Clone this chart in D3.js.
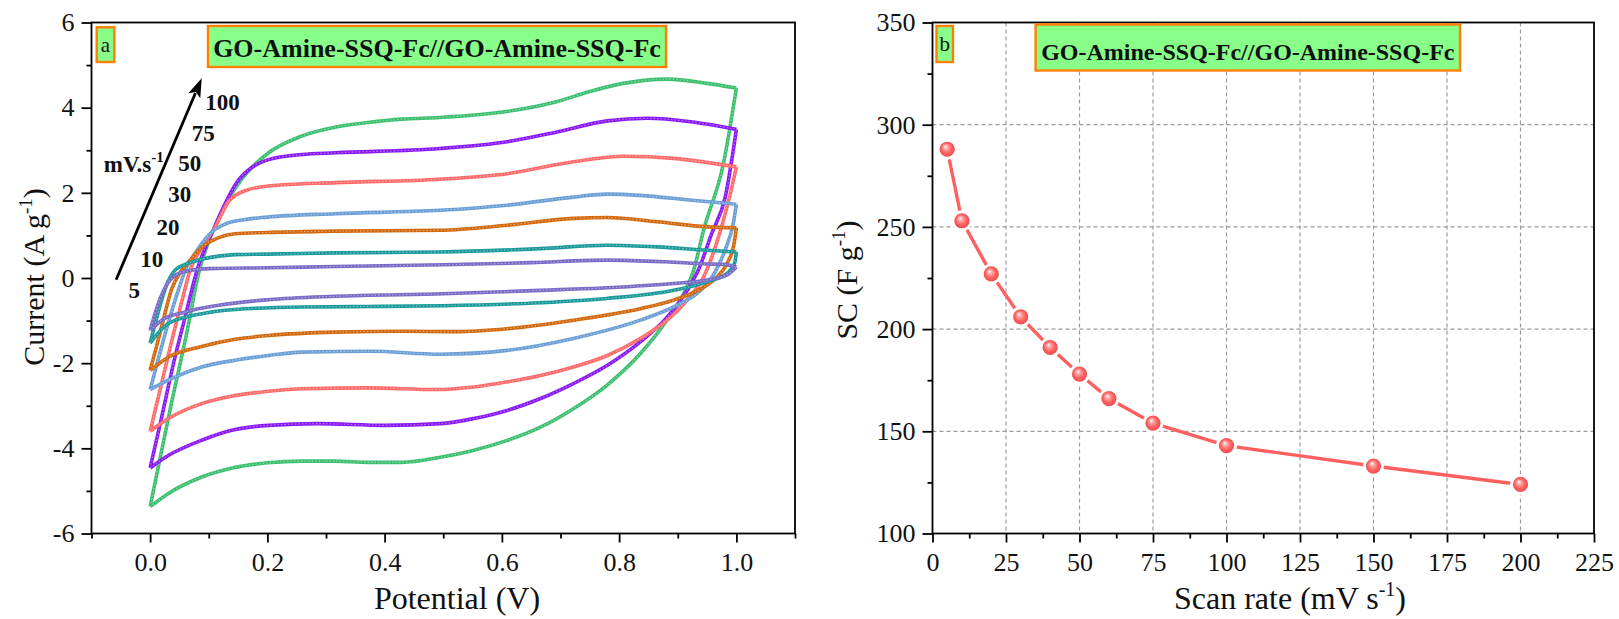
<!DOCTYPE html>
<html><head><meta charset="utf-8">
<script src="https://cdn.jsdelivr.net/npm/d3@7"></script>
<style>
body{margin:0;background:#fff}
svg{display:block}
text{font-family:"Liberation Serif","Times New Roman",serif;fill:#111}
</style>
</head><body>
<svg id="chart" width="1619" height="619"></svg>
<script>
// ---------- DATA ----------
const scanRates = ["5", "10", "20", "30", "50", "75", "100"];
const cvColors = ["#7a6bc7", "#1a9a9a", "#d2690e", "#6c9fd6", "#ff6b6b", "#8a1af5", "#3dbf70"];

// anodic (upper) branches: [potential V, current A/g]
const upper5 = [[0,-1.23],[0.008,-0.85],[0.018,-0.45],[0.03,-0.12],[0.045,0.08],[0.07,0.18],[0.1,0.22],[0.2,0.24],[0.316,0.27],[0.5,0.31],[0.65,0.36],[0.78,0.42],[0.88,0.38],[0.95,0.33],[0.978,0.32],[1.0,0.26]];
const upper10 = [[0,-1.53],[0.01,-1.0],[0.02,-0.5],[0.03,-0.1],[0.042,0.18],[0.06,0.32],[0.088,0.44],[0.12,0.52],[0.145,0.55],[0.2,0.56],[0.316,0.59],[0.494,0.61],[0.666,0.69],[0.78,0.77],[0.865,0.73],[0.95,0.65],[1.0,0.61]];
const upper20 = [[0,-2.17],[0.012,-1.55],[0.024,-0.9],[0.037,-0.25],[0.05,0.1],[0.065,0.36],[0.088,0.72],[0.117,0.95],[0.145,1.04],[0.2,1.07],[0.316,1.10],[0.494,1.12],[0.609,1.24],[0.722,1.40],[0.78,1.42],[0.865,1.32],[0.95,1.20],[1.0,1.18]];
const upper30 = [[0,-2.62],[0.015,-1.85],[0.03,-1.1],[0.048,-0.29],[0.06,0.18],[0.08,0.65],[0.105,1.08],[0.13,1.28],[0.16,1.37],[0.2,1.43],[0.316,1.51],[0.494,1.59],[0.609,1.71],[0.722,1.90],[0.78,1.97],[0.836,1.94],[0.92,1.83],[1.0,1.73]];
const upper50 = [[0,-3.60],[0.02,-2.45],[0.04,-1.3],[0.055,-0.5],[0.068,0.18],[0.09,0.75],[0.111,1.2],[0.134,1.80],[0.162,2.05],[0.202,2.16],[0.316,2.24],[0.494,2.32],[0.609,2.45],[0.722,2.73],[0.808,2.86],[0.893,2.81],[1.0,2.61]];
const upper75 = [[0,-4.46],[0.02,-3.25],[0.04,-2.0],[0.06,-0.9],[0.08,0.18],[0.11,1.2],[0.128,1.75],[0.148,2.25],[0.174,2.6],[0.202,2.78],[0.259,2.90],[0.316,2.94],[0.494,3.04],[0.609,3.20],[0.694,3.43],[0.78,3.69],[0.848,3.75],[0.922,3.67],[1.0,3.49]];
const upper100 = [[0,-5.37],[0.036,-2.96],[0.061,-1.39],[0.084,0.18],[0.11,1.2],[0.133,1.83],[0.155,2.30],[0.201,2.93],[0.258,3.33],[0.315,3.54],[0.372,3.65],[0.429,3.73],[0.494,3.77],[0.608,3.91],[0.693,4.14],[0.75,4.38],[0.807,4.57],[0.881,4.67],[0.95,4.57],[1.0,4.46]];

// cathodic (lower) branches, listed by increasing potential
const lower5 = [[0,-1.23],[0.02,-0.99],[0.06,-0.80],[0.117,-0.64],[0.202,-0.51],[0.316,-0.43],[0.5,-0.37],[0.666,-0.29],[0.78,-0.23],[0.893,-0.13],[0.95,-0.05],[0.985,0.08],[1.0,0.26]];
const lower10 = [[0,-1.53],[0.031,-1.07],[0.088,-0.84],[0.145,-0.74],[0.259,-0.68],[0.373,-0.67],[0.5,-0.65],[0.666,-0.58],[0.779,-0.48],[0.893,-0.29],[0.95,-0.09],[0.985,0.12],[0.997,0.35],[1.0,0.61]];
const lower20 = [[0,-2.17],[0.031,-1.86],[0.088,-1.61],[0.145,-1.44],[0.202,-1.35],[0.316,-1.27],[0.43,-1.25],[0.52,-1.26],[0.609,-1.19],[0.722,-0.99],[0.836,-0.72],[0.893,-0.52],[0.94,-0.25],[0.965,0.0],[0.984,0.34],[0.996,0.8],[1.0,1.18]];
const lower30 = [[0,-2.62],[0.031,-2.40],[0.088,-2.09],[0.145,-1.93],[0.202,-1.82],[0.259,-1.74],[0.373,-1.72],[0.495,-1.79],[0.609,-1.70],[0.722,-1.42],[0.836,-0.99],[0.893,-0.68],[0.939,-0.29],[0.962,0.1],[0.982,0.7],[0.995,1.3],[1.0,1.73]];
const lower50 = [[0,-3.60],[0.031,-3.30],[0.088,-2.95],[0.145,-2.76],[0.202,-2.66],[0.259,-2.60],[0.373,-2.58],[0.486,-2.62],[0.552,-2.56],[0.609,-2.44],[0.666,-2.29],[0.722,-2.09],[0.78,-1.82],[0.836,-1.42],[0.882,-0.99],[0.916,-0.52],[0.944,0.02],[0.973,1.12],[0.99,2.0],[1.0,2.61]];
const lower75 = [[0,-4.46],[0.031,-4.17],[0.088,-3.81],[0.145,-3.56],[0.202,-3.46],[0.287,-3.42],[0.401,-3.46],[0.495,-3.42],[0.552,-3.30],[0.609,-3.11],[0.666,-2.83],[0.722,-2.48],[0.78,-2.05],[0.836,-1.50],[0.882,-0.92],[0.916,-0.29],[0.935,0.18],[0.958,1.05],[0.981,1.9],[1.0,3.49]];
const lower100 = [[0,-5.37],[0.030,-5.07],[0.087,-4.68],[0.144,-4.45],[0.201,-4.34],[0.258,-4.30],[0.315,-4.30],[0.372,-4.33],[0.429,-4.33],[0.495,-4.21],[0.551,-4.05],[0.608,-3.82],[0.665,-3.51],[0.722,-3.07],[0.779,-2.52],[0.836,-1.78],[0.881,-1.0],[0.913,-0.29],[0.927,0.18],[0.944,1.12],[0.978,2.69],[1.0,4.46]];

const cvUpper = [upper5, upper10, upper20, upper30, upper50, upper75, upper100];
const cvLower = [lower5, lower10, lower20, lower30, lower50, lower75, lower100];

const cvXTicks = [0, 0.2, 0.4, 0.6, 0.8, 1.0];
const cvXMinor = [-0.1, 0.1, 0.3, 0.5, 0.7, 0.9, 1.1];
const cvYTicks = [-6, -4, -2, 0, 2, 4, 6];
const cvYMinor = [-5, -3, -1, 1, 3, 5];

const scRate = [5, 10, 20, 30, 40, 50, 60, 75, 100, 150, 200];
const scValue = [288, 253, 227, 206, 191, 178, 166, 154, 143, 133, 124];
const scXTicks = [0, 25, 50, 75, 100, 125, 150, 175, 200, 225];
const scXMinor = [12.5, 37.5, 62.5, 87.5, 112.5, 137.5, 162.5, 187.5, 212.5];
const scYTicks = [100, 150, 200, 250, 300, 350];
const scYMinor = [125, 175, 225, 275, 325];
const scXGrid = [25, 50, 75, 100, 125, 150, 175, 200];
const scYGrid = [150, 200, 250, 300];

const panelTitle = "GO-Amine-SSQ-Fc//GO-Amine-SSQ-Fc";
// rate annotations placed in data units of panel a
const rateLabels = [["100",0.094,3.94],["75",0.071,3.21],["50",0.048,2.51],["30",0.031,1.79],["20",0.011,1.00],["10",-0.017,0.26],["5",-0.037,-0.46]];
const arrowFrom = [-0.058, -0.04], arrowTo = [0.088, 4.69];

// ---------- DRAW ----------
const svg = d3.select("#chart");
const TOP = 22.5, BOT = 533.5;
const SERIF = '"Liberation Serif","Times New Roman",serif';

function axes(g, x, y, xT, xM, yT, yM, xFmt, yFmt) {
  const ax = g.append("g").attr("transform", `translate(0,${BOT})`);
  ax.call(d3.axisBottom(x).tickValues(xT).tickSize(9).tickPadding(10).tickFormat(xFmt));
  const axm = g.append("g").attr("transform", `translate(0,${BOT})`);
  axm.call(d3.axisBottom(x).tickValues(xM).tickSize(5).tickFormat(""));
  const ay = g.append("g").attr("transform", `translate(${x.range()[0]},0)`);
  ay.call(d3.axisLeft(y).tickValues(yT).tickSize(10).tickPadding(7).tickFormat(yFmt));
  const aym = g.append("g").attr("transform", `translate(${x.range()[0]},0)`);
  aym.call(d3.axisLeft(y).tickValues(yM).tickSize(5).tickFormat(""));
  [ax, axm, ay, aym].forEach(a => a.attr("font-family", SERIF).attr("font-size", 26));
  g.selectAll(".domain").remove();
  g.selectAll(".tick line").attr("stroke", "#000").attr("stroke-width", 1.8);
  g.selectAll(".tick text").attr("font-family", SERIF).style("font-family", SERIF)
    .style("font-size", "26px").attr("fill", "#1a1a1a");
  g.append("rect").attr("x", x.range()[0]).attr("y", TOP)
    .attr("width", x.range()[1] - x.range()[0]).attr("height", BOT - TOP)
    .attr("fill", "none").attr("stroke", "#000").attr("stroke-width", 1.8);
}

function labelBox(g, x0, y0, w, h, txt, fs, bold, baseY) {
  g.append("rect").attr("x", x0).attr("y", y0).attr("width", w).attr("height", h)
    .attr("fill", "#88ff88").attr("stroke", "#ff8000").attr("stroke-width", 2.4);
  g.append("text").attr("x", x0 + w / 2).attr("y", baseY).attr("text-anchor", "middle")
    .style("font-size", fs + "px").style("font-weight", bold ? "bold" : "normal").text(txt);
}

// ----- Panel a -----
const xa = d3.scaleLinear([-0.1, 1.1], [91.5, 795]);
const ya = d3.scaleLinear([-6, 6], [BOT, TOP]);
const ga = svg.append("g");

const cvLine = d3.line().x(d => xa(d[0])).y(d => ya(d[1])).curve(d3.curveMonotoneX);
const curves = ga.append("g");
for (let i = scanRates.length - 1; i >= 0; i--) {
  [cvUpper[i], cvLower[i]].forEach(br => {
    curves.append("path").attr("d", cvLine(br)).attr("fill", "none")
      .attr("stroke", cvColors[i]).attr("stroke-width", 3.6).attr("stroke-linejoin", "round");
    curves.append("path").attr("d", cvLine(br)).attr("fill", "none")
      .attr("stroke", "#fff").attr("stroke-opacity", 0.45).attr("stroke-width", 1.1)
      .attr("stroke-dasharray", "1.3 2.2");
  });
}
axes(ga, xa, ya, cvXTicks, cvXMinor, cvYTicks, cvYMinor, d3.format(".1f"), d => String(d));

// arrow
{
  const x1 = xa(arrowFrom[0]), y1 = ya(arrowFrom[1]), x2 = xa(arrowTo[0]), y2 = ya(arrowTo[1]);
  const dx = x2 - x1, dy = y2 - y1, L = Math.hypot(dx, dy), ux = dx / L, uy = dy / L;
  const hl = 19, hw = 6.5;
  const bx = x2 - ux * hl, by = y2 - uy * hl;
  ga.append("line").attr("x1", x1).attr("y1", y1).attr("x2", bx + ux * 3).attr("y2", by + uy * 3)
    .attr("stroke", "#000").attr("stroke-width", 2.8);
  ga.append("path").attr("d", `M${x2},${y2}L${bx - uy * hw},${by + ux * hw}L${bx + ux * 4},${by + uy * 4}L${bx + uy * hw},${by - ux * hw}Z`)
    .attr("fill", "#000");
}
rateLabels.forEach(([t, v, c]) => {
  ga.append("text").attr("x", xa(v)).attr("y", ya(c)).style("font-size", "23px").style("font-weight", "bold").text(t);
});
{
  const t = ga.append("text").attr("x", xa(-0.079)).attr("y", ya(2.49)).style("font-size", "23px").style("font-weight", "bold");
  t.append("tspan").text("mV.s");
  t.append("tspan").attr("dy", -10).style("font-size", "15px").text("-1");
}

labelBox(ga, 96.7, 27.3, 17.6, 34.7, "a", 21, false, 52);
labelBox(ga, 208, 26, 458, 41, panelTitle, 26, true, 56.5);

// axis titles a
{
  const t = ga.append("text").attr("text-anchor", "middle").attr("transform", "translate(44,277) rotate(-90)").style("font-size", "30px");
  t.append("tspan").text("Current (A g");
  t.append("tspan").attr("dy", -12).style("font-size", "19px").text("-1");
  t.append("tspan").attr("dy", 12).text(")");
  ga.append("text").attr("x", 457).attr("y", 609).attr("text-anchor", "middle").style("font-size", "32px").text("Potential (V)");
}

// ----- Panel b -----
const xb = d3.scaleLinear([0, 225], [932.5, 1594]);
const yb = d3.scaleLinear([100, 350], [BOT, TOP]);
const gb = svg.append("g");

const grid = gb.append("g").attr("stroke", "#9a9a9a").attr("stroke-width", 1.2).attr("stroke-dasharray", "4 3");
grid.selectAll(".gx").data(scXGrid).join("line").attr("x1", d => xb(d)).attr("x2", d => xb(d)).attr("y1", TOP).attr("y2", BOT);
grid.selectAll(".gy").data(scYGrid).join("line").attr("y1", d => yb(d)).attr("y2", d => yb(d)).attr("x1", xb(0)).attr("x2", xb(225));

const defs = svg.append("defs");
const rg = defs.append("radialGradient").attr("id", "ball").attr("cx", "50%").attr("cy", "50%").attr("r", "55%").attr("fx", "38%").attr("fy", "32%");
rg.append("stop").attr("offset", "0%").attr("stop-color", "#ffffff");
rg.append("stop").attr("offset", "22%").attr("stop-color", "#ffb0b0");
rg.append("stop").attr("offset", "60%").attr("stop-color", "#ff6262");
rg.append("stop").attr("offset", "100%").attr("stop-color", "#e84848");

const scPts = scRate.map((r, i) => [r, scValue[i]]);
gb.append("path").attr("d", d3.line().x(d => xb(d[0])).y(d => yb(d[1]))(scPts))
  .attr("fill", "none").attr("stroke", "#ff5f5f").attr("stroke-width", 3.4);
gb.selectAll(".halo").data(scPts).join("circle").attr("cx", d => xb(d[0])).attr("cy", d => yb(d[1]))
  .attr("r", 10.5).attr("fill", "#fff");
gb.selectAll(".ball").data(scPts).join("circle").attr("cx", d => xb(d[0])).attr("cy", d => yb(d[1]))
  .attr("r", 7.6).attr("fill", "url(#ball)");

axes(gb, xb, yb, scXTicks, scXMinor, scYTicks, scYMinor, d => String(d), d => String(d));

labelBox(gb, 936.5, 26, 16.5, 36, "b", 21, false, 51);
labelBox(gb, 1035.6, 24.5, 424.4, 46, panelTitle, 24, true, 59.5);

{
  const t = gb.append("text").attr("text-anchor", "middle").attr("transform", "translate(857,280) rotate(-90)").style("font-size", "30px");
  t.append("tspan").text("SC (F g");
  t.append("tspan").attr("dy", -12).style("font-size", "19px").text("-1");
  t.append("tspan").attr("dy", 12).text(")");
  const t2 = gb.append("text").attr("x", 1290).attr("y", 609).attr("text-anchor", "middle").style("font-size", "32px");
  t2.append("tspan").text("Scan rate (mV s");
  t2.append("tspan").attr("dy", -13).style("font-size", "20px").text("-1");
  t2.append("tspan").attr("dy", 13).text(")");
}
</script>
</body></html>
